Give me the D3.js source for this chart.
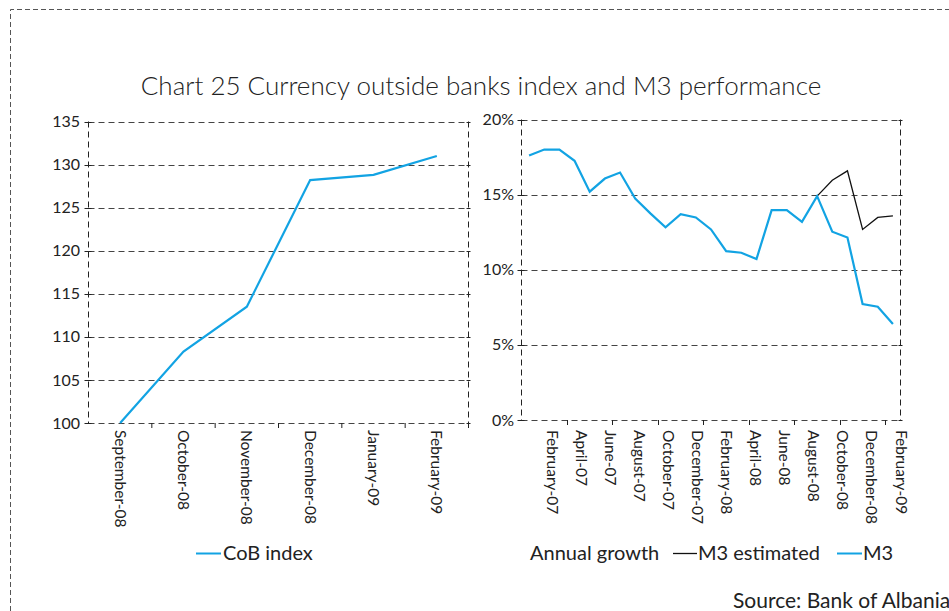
<!DOCTYPE html>
<html>
<head>
<meta charset="utf-8">
<script src="https://cdn.jsdelivr.net/npm/d3@7"></script>
<style>
body { margin: 0; background: #fff; }
text { font-family: Lato, "Noto Sans", sans-serif; fill: #222; }
</style>
</head>
<body>
<script>
// left panel: currency outside banks index
var cobMonths = ["September-08", "October-08", "November-08", "December-08", "January-09", "February-09"];
var cobIndex = [100, 108.3, 113.5, 128.2, 128.8, 131.0];
var cobTicks = [100, 105, 110, 115, 120, 125, 130, 135];

// right panel: M3 annual growth, Feb-07 .. Feb-09
var m3Months = ["Feb-07", "Mar-07", "Apr-07", "May-07", "Jun-07", "Jul-07", "Aug-07", "Sep-07", "Oct-07", "Nov-07", "Dec-07",
    "Jan-08", "Feb-08", "Mar-08", "Apr-08", "May-08", "Jun-08", "Jul-08", "Aug-08", "Sep-08", "Oct-08", "Nov-08", "Dec-08",
    "Jan-09", "Feb-09"];
var m3Growth = [17.6, 18.0, 18.0, 17.25, 15.2, 16.07, 16.47, 14.74, 13.75, 12.82, 13.7, 13.48, 12.68,
    11.24, 11.13, 10.71, 13.97, 13.97, 13.19, 14.9, 12.53, 12.15, 7.72, 7.54, 6.39];
var m3EstMonths = ["Sep-08", "Oct-08", "Nov-08", "Dec-08", "Jan-09", "Feb-09"];
var m3Estimated = [14.9, 15.96, 16.58, 12.68, 13.48, 13.59];
var m3LabelNames = ["February-07", "April-07", "June-07", "August-07", "October-07", "December-07", "February-08",
    "April-08", "June-08", "August-08", "October-08", "December-08", "February-09"];
var m3Ticks = [0, 5, 10, 15, 20];

var blue = "#12a3e3";
var gridColor = "#444";

var svg = d3.select("body").append("svg").attr("width", 949).attr("height", 611);

// outer dashed frame
svg.append("path")
    .attr("d", "M10.5,611 L10.5,9.5 L949,9.5")
    .attr("fill", "none")
    .attr("stroke", "#555")
    .attr("stroke-dasharray", "5,3");

svg.append("text")
    .attr("x", 481).attr("y", 95)
    .attr("text-anchor", "middle")
    .style("font-size", "26px")
    .style("font-weight", "300")
    .text("Chart 25 Currency outside banks index and M3 performance");

drawCobChart();
drawM3Chart();

svg.append("text")
    .attr("x", 733).attr("y", 608)
    .style("font-size", "21px")
    .text("Source: Bank of Albania");

function dashedFrame(g, x0, x1, y0, y1, ticks, y) {
    g.selectAll(".grid")
        .data(ticks)
        .enter().append("line")
        .attr("class", "grid")
        .attr("x1", x0).attr("x2", x1)
        .attr("y1", function(d) { return Math.round(y(d)) + 0.5; })
        .attr("y2", function(d) { return Math.round(y(d)) + 0.5; })
        .attr("stroke", gridColor)
        .attr("stroke-width", 1.2)
        .attr("stroke-dasharray", "6,4");
    [x0, x1].forEach(function(xx) {
        g.append("line")
            .attr("x1", xx).attr("x2", xx)
            .attr("y1", y1).attr("y2", y0)
            .attr("stroke", "#222")
            .attr("stroke-dasharray", "6,4");
    });
    // y tick marks cross the axis
    g.selectAll(".ytick")
        .data(ticks)
        .enter().append("line")
        .attr("x1", x0 - 4).attr("x2", x0 + 3)
        .attr("y1", function(d) { return Math.round(y(d)) + 0.5; })
        .attr("y2", function(d) { return Math.round(y(d)) + 0.5; })
        .attr("stroke", "#222");
    g.selectAll(".ytick-r")
        .data(ticks)
        .enter().append("line")
        .attr("x1", x1 - 2).attr("x2", x1 + 2)
        .attr("y1", function(d) { return Math.round(y(d)) + 0.5; })
        .attr("y2", function(d) { return Math.round(y(d)) + 0.5; })
        .attr("stroke", "#222");
}

function drawCobChart() {
    var x = d3.scaleBand().domain(cobMonths).range([88.5, 468.5]);
    var y = d3.scaleLinear().domain([100, 135]).range([423, 121.5]);
    var g = svg.append("g");

    dashedFrame(g, 88.5, 468.5, 423, 121.5, cobTicks, y);

    g.selectAll(".ylab")
        .data(cobTicks)
        .enter().append("text")
        .attr("x", 80).attr("y", function(d) { return y(d); })
        .attr("dy", "0.35em")
        .attr("text-anchor", "end")
        .style("font-size", "16px")
        .text(function(d) { return d; });

    // x tick marks at band edges
    g.selectAll(".xtick")
        .data(cobMonths)
        .enter().append("line")
        .attr("x1", function(d) { return x(d) + x.bandwidth(); })
        .attr("x2", function(d) { return x(d) + x.bandwidth(); })
        .attr("y1", 423).attr("y2", 428)
        .attr("stroke", "#222");

    g.selectAll(".xlab")
        .data(cobMonths)
        .enter().append("text")
        .attr("transform", function(d) { return "translate(" + (x(d) + x.bandwidth() / 2) + ",430) rotate(90)"; })
        .attr("dy", "0.35em")
        .style("font-size", "15.5px")
        .text(function(d) { return d; });

    var line = d3.line()
        .x(function(d, i) { return x(cobMonths[i]) + x.bandwidth() / 2; })
        .y(function(d) { return y(d); });

    g.append("path")
        .datum(cobIndex)
        .attr("fill", "none")
        .attr("stroke", blue)
        .attr("stroke-width", 2.2)
        .attr("d", line);

    // legend
    g.append("line").attr("x1", 196).attr("x2", 221).attr("y1", 553.5).attr("y2", 553.5)
        .attr("stroke", blue).attr("stroke-width", 2);
    g.append("text").attr("x", 223).attr("y", 553).attr("dy", "0.35em")
        .style("font-size", "20px").text("CoB index");
}

function drawM3Chart() {
    var x = d3.scaleBand().domain(m3Months).range([521.5, 900.5]);
    var y = d3.scaleLinear().domain([0, 20]).range([420, 119.5]);
    var labelX = d3.scalePoint().domain(m3LabelNames).range([552, 901]);
    var g = svg.append("g");

    dashedFrame(g, 521.5, 900.5, 420, 119.5, m3Ticks, y);

    g.selectAll(".ylab")
        .data(m3Ticks)
        .enter().append("text")
        .attr("x", 514).attr("y", function(d) { return y(d); })
        .attr("dy", "0.35em")
        .attr("text-anchor", "end")
        .style("font-size", "16px")
        .text(function(d) { return d + "%"; });

    // tick marks every third month
    var tickMonths = m3Months.filter(function(d, i) { return (i + 1) % 3 == 0 && i < m3Months.length - 1; });
    g.selectAll(".xtick")
        .data(tickMonths)
        .enter().append("line")
        .attr("x1", function(d) { return Math.round(x(d) + x.bandwidth()) + 0.5; })
        .attr("x2", function(d) { return Math.round(x(d) + x.bandwidth()) + 0.5; })
        .attr("y1", 420).attr("y2", 425)
        .attr("stroke", "#222");

    g.selectAll(".xlab")
        .data(m3LabelNames)
        .enter().append("text")
        .attr("transform", function(d) { return "translate(" + labelX(d) + ",430) rotate(90)"; })
        .attr("dy", "0.35em")
        .style("font-size", "15.5px")
        .text(function(d) { return d; });

    var lineEst = d3.line()
        .x(function(d, i) { return x(m3EstMonths[i]) + x.bandwidth() / 2; })
        .y(function(d) { return y(d); });
    var lineM3 = d3.line()
        .x(function(d, i) { return x(m3Months[i]) + x.bandwidth() / 2; })
        .y(function(d) { return y(d); });

    g.append("path")
        .datum(m3Estimated)
        .attr("fill", "none")
        .attr("stroke", "#111")
        .attr("stroke-width", 1.3)
        .attr("d", lineEst);

    g.append("path")
        .datum(m3Growth)
        .attr("fill", "none")
        .attr("stroke", blue)
        .attr("stroke-width", 2.2)
        .attr("d", lineM3);

    // legend
    g.append("text").attr("x", 530).attr("y", 553).attr("dy", "0.35em")
        .style("font-size", "20px").text("Annual growth");
    g.append("line").attr("x1", 673).attr("x2", 697).attr("y1", 553.5).attr("y2", 553.5)
        .attr("stroke", "#111").attr("stroke-width", 1.3);
    g.append("text").attr("x", 698).attr("y", 553).attr("dy", "0.35em")
        .style("font-size", "20px").text("M3 estimated");
    g.append("line").attr("x1", 837).attr("x2", 862).attr("y1", 553.5).attr("y2", 553.5)
        .attr("stroke", blue).attr("stroke-width", 2);
    g.append("text").attr("x", 863).attr("y", 553).attr("dy", "0.35em")
        .style("font-size", "20px").text("M3");
}
</script>
</body>
</html>
